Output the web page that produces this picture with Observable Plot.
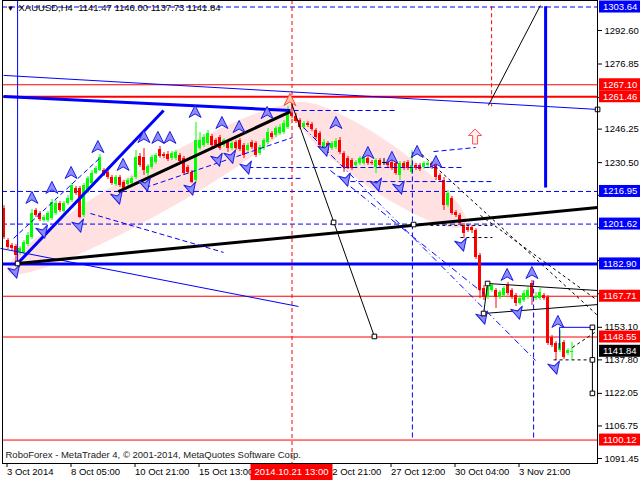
<!DOCTYPE html>
<html><head><meta charset="utf-8">
<script src="https://cdn.jsdelivr.net/npm/d3@7"></script>
<script src="https://cdn.jsdelivr.net/npm/@observablehq/plot@0.6"></script>
<style>
html,body{margin:0;padding:0;background:#fff;}
#chart{width:640px;height:480px;overflow:hidden;position:relative;}
</style></head><body><div id="chart"></div>
<script>
// ---------- DATA ----------
const symbolTitle = "XAUUSD,H4  1141.47 1146.00 1137.73 1141.84";
const footerText = "RoboForex - MetaTrader 4, \u00A9 2001-2014, MetaQuotes Software Corp.";
const cursorTimeText = "2014.10.21 13:00";
const cursorIndex = 72;

const barOpen = [
 1208.9,1193.9,1191.6,1191.1,1188.3,1188.3,1192.0,1195.3,1208.0,1206.6,
 1203.3,1203.3,1204.2,1206.6,1211.3,1207.5,1211.3,1212.7,1218.3,1218.3,
 1205.7,1216.5,1220.7,1225.4,1226.8,1226.8,1225.9,1223.5,1220.2,1223.5,
 1221.2,1220.2,1220.7,1223.5,1233.4,1232.9,1225.4,1228.2,1230.6,1236.7,
 1234.3,1234.3,1232.4,1232.4,1233.9,1232.4,1228.2,1225.9,1222.1,1237.1,
 1238.6,1239.5,1242.8,1240.9,1242.3,1238.6,1240.0,1237.1,1240.0,1240.9,
 1238.6,1236.2,1240.0,1239.5,1234.8,1237.1,1240.0,1244.2,1243.3,1244.2,
 1244.7,1247.0,1253.6,1252.2,1250.3,1247.0,1248.9,1248.4,1245.6,1244.2,
 1237.6,1239.5,1237.1,1237.6,1240.9,1234.8,1232.4,1231.5,1229.2,1230.1,
 1230.1,1232.4,1230.6,1228.2,1231.5,1230.6,1230.6,1230.6,1230.1,1224.5,
 1230.1,1230.6,1225.9,1229.2,1229.2,1228.2,1229.2,1230.1,1229.2,1224.5,
 1222.1,1210.3,1213.6,1207.1,1205.7,1201.0,1200.0,1200.0,1198.6,1186.9,
 1171.3,1167.1,1170.4,1170.4,1167.1,1168.0,1172.8,1170.4,1168.0,1164.3,
 1165.7,1167.1,1173.7,1166.6,1166.6,1168.0,1167.1,1148.3,1145.5,1142.2,
 1146.0,1140.8,1141.47];
const barHigh = [
 1210.3,1194.8,1192.5,1192.0,1191.1,1193.9,1197.7,1208.5,1208.9,1207.5,
 1205.7,1207.5,1213.2,1212.7,1212.2,1212.2,1215.0,1220.7,1219.3,1219.3,
 1220.7,1224.0,1226.8,1228.7,1234.3,1227.7,1226.8,1224.5,1224.5,1224.5,
 1222.1,1223.0,1224.0,1236.2,1234.8,1237.1,1229.6,1233.9,1234.8,1238.1,
 1235.3,1235.7,1235.7,1236.2,1234.8,1233.4,1229.2,1226.8,1249.4,1244.7,
 1243.7,1245.6,1243.7,1241.8,1243.3,1241.8,1240.9,1240.4,1240.9,1241.8,
 1239.5,1239.5,1240.9,1240.4,1238.6,1241.8,1246.5,1245.1,1247.5,1248.4,
 1250.3,1256.9,1259.2,1253.6,1251.2,1249.8,1249.8,1249.4,1246.5,1245.1,
 1241.4,1240.4,1240.4,1241.8,1242.3,1235.7,1233.4,1232.4,1231.5,1233.4,
 1233.9,1233.4,1231.5,1232.4,1232.4,1232.4,1231.5,1231.5,1231.0,1231.0,
 1231.0,1231.5,1236.2,1230.1,1230.1,1231.0,1231.0,1231.0,1230.1,1225.4,
 1223.5,1217.4,1214.6,1208.0,1206.6,1201.9,1201.0,1201.0,1199.5,1187.8,
 1172.8,1173.7,1173.7,1171.3,1170.4,1172.3,1174.2,1171.3,1169.0,1168.0,
 1170.4,1171.8,1175.1,1169.5,1171.3,1169.0,1168.0,1149.3,1146.4,1151.6,
 1146.9,1143.1,1146.00];
const barLow = [
 1194.4,1189.7,1189.2,1183.2,1186.9,1187.3,1191.1,1194.4,1204.7,1202.8,
 1202.4,1202.4,1203.3,1205.7,1207.1,1206.6,1210.3,1211.8,1215.1,1204.2,
 1204.7,1216.0,1220.2,1224.9,1226.3,1224.0,1222.6,1219.8,1219.3,1218.8,
 1217.4,1219.3,1219.8,1222.6,1228.2,1224.5,1224.0,1227.3,1229.6,1232.4,
 1232.4,1231.0,1231.5,1231.5,1230.1,1224.5,1224.9,1220.7,1220.7,1236.2,
 1237.6,1238.6,1237.6,1237.6,1236.2,1237.6,1235.3,1236.2,1236.2,1235.7,
 1232.4,1235.3,1236.7,1232.9,1233.9,1236.2,1239.0,1241.4,1242.3,1243.3,
 1243.7,1246.1,1251.2,1248.9,1246.1,1246.1,1247.0,1245.1,1241.4,1237.6,
 1236.7,1235.3,1236.2,1236.7,1234.3,1225.9,1227.3,1226.8,1228.2,1229.2,
 1229.2,1229.2,1229.2,1225.4,1228.2,1229.2,1228.2,1226.8,1224.5,1222.1,
 1226.8,1226.8,1224.9,1226.8,1226.3,1227.3,1228.2,1227.3,1222.1,1221.2,
 1208.0,1209.4,1205.7,1204.7,1201.0,1194.8,1197.7,1197.2,1185.0,1166.6,
 1165.7,1166.2,1169.5,1162.0,1166.2,1167.1,1168.0,1166.2,1162.9,1163.4,
 1164.8,1166.2,1163.4,1165.7,1165.7,1165.7,1144.6,1143.6,1137.5,1141.3,
 1138.0,1139.9,1137.73];
const barClose = [
 1195.3,1190.6,1190.1,1186.9,1190.1,1193.0,1196.3,1206.6,1205.7,1203.8,
 1204.7,1206.6,1211.8,1211.3,1208.0,1211.3,1213.6,1219.8,1216.0,1204.7,
 1219.8,1223.0,1225.4,1227.7,1232.9,1224.5,1223.5,1220.7,1223.5,1219.8,
 1218.3,1222.1,1223.0,1232.9,1229.2,1226.8,1228.7,1232.9,1233.9,1233.4,
 1233.4,1232.0,1234.8,1235.3,1231.0,1225.4,1225.9,1221.2,1240.9,1240.9,
 1242.3,1244.2,1238.6,1238.6,1237.1,1240.9,1237.1,1239.5,1237.1,1236.7,
 1233.9,1238.6,1237.6,1233.9,1237.6,1240.9,1244.7,1242.3,1246.5,1247.0,
 1248.9,1253.1,1252.0,1249.8,1247.0,1248.9,1248.0,1246.1,1242.3,1238.6,
 1240.0,1236.2,1239.5,1240.4,1235.3,1228.2,1228.2,1227.7,1230.6,1232.4,
 1232.9,1230.1,1230.1,1231.5,1229.2,1230.6,1229.2,1227.7,1225.4,1230.1,
 1227.7,1227.7,1229.2,1227.7,1227.3,1230.1,1230.1,1228.2,1223.5,1222.1,
 1210.3,1216.0,1206.6,1205.7,1201.9,1197.2,1198.6,1198.6,1185.9,1170.4,
 1167.1,1171.8,1172.8,1167.1,1169.5,1171.3,1169.0,1167.1,1164.3,1166.6,
 1169.0,1170.4,1167.1,1167.6,1169.5,1166.6,1145.5,1144.6,1141.3,1145.5,
 1138.9,1142.2,1141.84];

const timeTickIndex = [0,16,32,48,64,80,96,112,128];
const timeTickText = ["3 Oct 2014","8 Oct 05:00","10 Oct 21:00","15 Oct 13:00","","22 Oct 21:00","27 Oct 12:00","30 Oct 04:00","3 Nov 21:00"];
const priceTicks = [1292.60,1276.85,1261.10,1246.25,1230.50,1215.20,1199.90,1184.45,1168.85,1153.10,1137.80,1122.05,1106.75,1091.45];
const priceTicksLabelled = [1292.60,1276.85,1246.25,1230.50,1153.10,1137.80,1122.05,1106.75,1091.45];

const levelPrices = [1303.64,1267.10,1261.46,1216.95,1201.62,1182.90,1167.71,1148.55,1141.84,1100.12];
const levelColors = ["#0000ff","#ff0000","#ff0000","#0000ff","#0000ff","#0000ff","#ff0000","#ff0000","#000000","#ff0000"];

const redLevels = [1267.10,1167.71,1148.55,1100.12];
const redThickLevels = [1261.46];
const blueDashLevels = [1303.64,1216.95,1201.62];
const blueThickLevels = [1182.90];

// trend lines [i1, p1, i2, p2]
const blueThinLines = [[-0.1,1271.5,148.4,1255.5],[-0.9,1190.2,73.6,1162.9],[138.9,1153.1,147.1,1153.1],[138.9,1153.1,138.9,1143.2],[3.4,1306.7,3.4,1183.1]];
const blueThickLines = [[-0.1,1261.6,71.6,1255.0],[3.4,1183.1,39.9,1255.0],[135.4,1304.0,135.4,1218.8]];
const blackThickLines = [[28.6,1216.9,71.6,1254.5],[3.4,1183.1,148.4,1209.4]];
const blackThinLines = [[71.9,1258.3,92.6,1148.8],[120.9,1173.7,148.4,1170.4],[119.9,1159.6,148.4,1163.8],[119.9,1159.6,120.9,1173.7],[121.1,1257.4,134.1,1304.4],[147.1,1153.1,147.1,1122.05]];
const blackDashLines = [[103.4,1236.2,148.4,1158.7],[119.1,1205.7,148.4,1165.7],[114.1,1195.3,122.1,1195.3],[106.6,1201.0,122.1,1201.0],[137.4,1137.8,147.1,1137.8],[142.1,1143.6,148.4,1151.6]];
const blueDashLines = [[72.4,1255.0,98.4,1255.0],[61.1,1228.2,114.9,1228.2],[86.6,1221.6,122.1,1221.6],[107.4,1235.7,117.9,1237.6],[54.9,1223.1,74.1,1223.1],[35.4,1218.8,72.1,1242.3],[2.4,1194.9,24.1,1232.9],[21.6,1206.6,54.9,1188.3],[102.1,1235.3,102.1,1100.1],[132.4,1175.1,132.4,1100.1]];
const blueDashDotLines = [[74.9,1247.0,132.9,1137.5],[81.6,1226.8,119.9,1169.0]];
const redDashLines = [[121.9,1304.0,121.9,1257.0]];

const pinkEllipses = [[1.1,1178.9,74.6,1256.9],[72.4,1257.4,115.4,1201.0]];

const upArrows = [[7.1,1213.7],[12.1,1218.4],[16.9,1225.4],[23.6,1237.6],[29.9,1229.2],[35.1,1242.3],[38.6,1241.9],[41.6,1241.9],[47.9,1254.1],[54.6,1248.9],[58.9,1247.0],[65.9,1253.6],[83.1,1248.9],[91.1,1234.8],[97.1,1232.5],[103.4,1235.3],[108.1,1230.6],[125.9,1177.5],[132.1,1178.4],[138.6,1155.4]];
const downArrows = [[2.9,1178.9],[9.9,1197.7],[18.9,1200.5],[28.6,1213.7],[35.6,1219.8],[46.9,1217.9],[53.6,1231.5],[56.9,1232.9],[60.9,1227.8],[80.4,1236.2],[85.6,1222.1],[93.4,1219.8],[99.1,1218.4],[114.6,1191.6],[119.9,1157.3],[128.6,1159.6],[137.9,1133.8]];
const peakArrow = [[71.6,1259.7]];
const signalArrow = [[117.9,1242.3]];
const anchorSquares = [[3.4,1183.1],[82.4,1202.4],[92.6,1148.8],[102.4,1201.4],[120.9,1173.7],[119.9,1159.6],[147.1,1153.1],[147.1,1137.8],[147.1,1122.05],[148.4,1255.5]];

// ---------- CHART ----------
const FONT = "'Liberation Sans', Arial, sans-serif";
const bars = barOpen.map((o, i) => ({i, o, h: barHigh[i], l: barLow[i], c: barClose[i]}));
const barColor = d => d.c > d.o ? "#00ff00" : d.c < d.o ? "#ff0000" : "#000000";
const timeLabel = new Map(timeTickIndex.map((t, k) => [t, timeTickText[k]]));
const labelled = new Set(priceTicksLabelled);
const seg = arr => arr.map(([x1, y1, x2, y2]) => ({x1, y1, x2, y2}));
const link = (arr, o) => Plot.link(seg(arr), {x1: "x1", y1: "y1", x2: "x2", y2: "y2", ...o});

function ellipses(index, scales) {
  const g = d3.create("svg:g");
  for (const [i1, p1, i2, p2] of pinkEllipses) {
    const x1 = scales.x(i1), y1 = scales.y(p1), x2 = scales.x(i2), y2 = scales.y(p2);
    const cx = (x1 + x2) / 2, cy = (y1 + y2) / 2;
    const a = Math.hypot(x2 - x1, y2 - y1) / 2;
    const ang = Math.atan2(y2 - y1, x2 - x1) * 180 / Math.PI;
    g.append("ellipse").attr("cx", cx).attr("cy", cy).attr("rx", a).attr("ry", 24)
      .attr("transform", `rotate(${ang} ${cx} ${cy})`).attr("fill", "#ffe1e1");
  }
  return g.node();
}

const PATH_UP = "M0,-6.5L6,5.5L0,2L-6,5.5Z";
const PATH_DOWN = "M0,6.5L6,-5.5L0,-2L-6,-5.5Z";
const PATH_BLOCK = "M0,-8L6.5,-1.5L2.5,-1.5L2.5,7L-2.5,7L-2.5,-1.5L-6.5,-1.5Z";
function arrows(points, path, fill, stroke, rot) {
  return (index, scales) => {
    const g = d3.create("svg:g");
    for (const [i, p] of points) {
      g.append("path").attr("d", path)
        .attr("transform", `translate(${scales.x(i)},${scales.y(p)}) rotate(${rot})`)
        .attr("fill", fill).attr("stroke", stroke).attr("stroke-width", 1).attr("stroke-linejoin", "round");
    }
    return g.node();
  };
}

function levelBoxes(index, scales, values, dims) {
  const g = d3.create("svg:g").attr("font-family", FONT).attr("font-size", 9.5).attr("text-anchor", "start");
  const x0 = dims.width - dims.marginRight + 2;
  levelPrices.forEach((p, k) => {
    const y = scales.y(p);
    g.append("rect").attr("x", x0).attr("y", y - 6).attr("width", dims.marginRight - 2).attr("height", 12).attr("fill", levelColors[k]);
    g.append("text").attr("x", x0 + 4).attr("y", y).attr("dy", "0.36em").attr("text-anchor", "start").attr("fill", "white").text(p.toFixed(2));
  });
  return g.node();
}

function cursorBox(index, scales, values, dims) {
  const g = d3.create("svg:g").attr("font-family", FONT).attr("font-size", 9.5);
  const x = scales.x(cursorIndex);
  const y0 = dims.height - dims.marginBottom + 1;
  g.append("rect").attr("x", x - 41).attr("y", y0).attr("width", 82).attr("height", 16).attr("fill", "#ff0000");
  g.append("text").attr("x", x).attr("y", y0 + 8).attr("dy", "0.36em").attr("text-anchor", "middle").attr("fill", "white").text(cursorTimeText);
  return g.node();
}

const chart = Plot.plot({
  width: 640, height: 480,
  marginLeft: 2, marginRight: 43, marginTop: 0, marginBottom: 17,
  x: {domain: [-0.375, 148.375]},
  y: {domain: [1089.1, 1306.7]},
  style: {fontFamily: FONT, fontSize: "9.5px", background: "white", color: "black", overflow: "visible"},
  marks: [
    ellipses,
    // horizontal levels
    Plot.ruleY(blueDashLevels, {stroke: "#0000ff", strokeWidth: 1, strokeDasharray: "5,3"}),
    Plot.ruleY(redLevels, {stroke: "#ff0000", strokeWidth: 1}),
    Plot.ruleY(redThickLevels, {stroke: "#ff0000", strokeWidth: 2}),
    Plot.ruleY(blueThickLevels, {stroke: "#0000ff", strokeWidth: 3}),
    Plot.ruleX([cursorIndex], {stroke: "#ff0000", strokeWidth: 1, strokeDasharray: "4,3"}),
    // candles
    Plot.ruleX(bars, {x: "i", y1: "l", y2: "h", stroke: barColor, strokeWidth: 1}),
    Plot.rect(bars.filter(d => d.o !== d.c), {x1: d => d.i - 0.375, x2: d => d.i + 0.375, y1: "o", y2: "c", fill: barColor, shapeRendering: "crispEdges"}),
    Plot.link(bars.filter(d => d.o === d.c), {x1: d => d.i - 0.5, x2: d => d.i + 0.5, y1: "o", y2: "c", stroke: "#000"}),
    // objects
    link(blueThinLines, {stroke: "#0000ff", strokeWidth: 1}),
    link(blueThickLines, {stroke: "#0000ff", strokeWidth: 3}),
    link(blackThickLines, {stroke: "#000000", strokeWidth: 3}),
    link(blackThinLines, {stroke: "#000000", strokeWidth: 1}),
    link(blackDashLines, {stroke: "#000000", strokeWidth: 1, strokeDasharray: "3,3"}),
    link(blueDashLines, {stroke: "#0000ff", strokeWidth: 1, strokeDasharray: "5,3"}),
    link(blueDashDotLines, {stroke: "#0000ff", strokeWidth: 1, strokeDasharray: "6,3,1,3"}),
    link(redDashLines, {stroke: "#ff0000", strokeWidth: 1, strokeDasharray: "4,3"}),
    arrows(upArrows, PATH_UP, "#8c8cff", "#1c1ce0", 0),
    arrows(downArrows, PATH_DOWN, "#8c8cff", "#1c1ce0", -15),
    arrows(peakArrow, PATH_UP, "#ffc2a8", "#ff4a2a", 0),
    arrows(signalArrow, PATH_BLOCK, "#fff0f0", "#ff5050", 0),
    Plot.dot(anchorSquares, {x: d => d[0], y: d => d[1], symbol: "square", r: 2.6, stroke: "#000", fill: "white", strokeWidth: 1}),
    Plot.frame({stroke: "#000", shapeRendering: "crispEdges"}),
    Plot.axisY(priceTicks, {anchor: "right", tickSize: 4, tickPadding: 3, tickFormat: d => labelled.has(d) ? d.toFixed(2) : "", label: null}),
    Plot.axisX(timeTickIndex, {anchor: "bottom", tickSize: 4, tickPadding: 1, tickFormat: d => timeLabel.get(d), textAnchor: "start", dx: 3, label: null}),
    levelBoxes,
    cursorBox,
    Plot.text(["\u25BC"], {frameAnchor: "top-left", dx: 4, dy: 5, fontSize: 8, textAnchor: "start", lineAnchor: "top", fill: "#000"}),
    Plot.text([symbolTitle], {frameAnchor: "top-left", dx: 16, dy: 4, textAnchor: "start", lineAnchor: "top", fill: "#000"}),
    Plot.text([footerText], {frameAnchor: "bottom-left", dx: 3, dy: -6, textAnchor: "start", lineAnchor: "bottom", fill: "#222"})
  ]
});
document.getElementById("chart").append(chart);
</script>
</body></html>
